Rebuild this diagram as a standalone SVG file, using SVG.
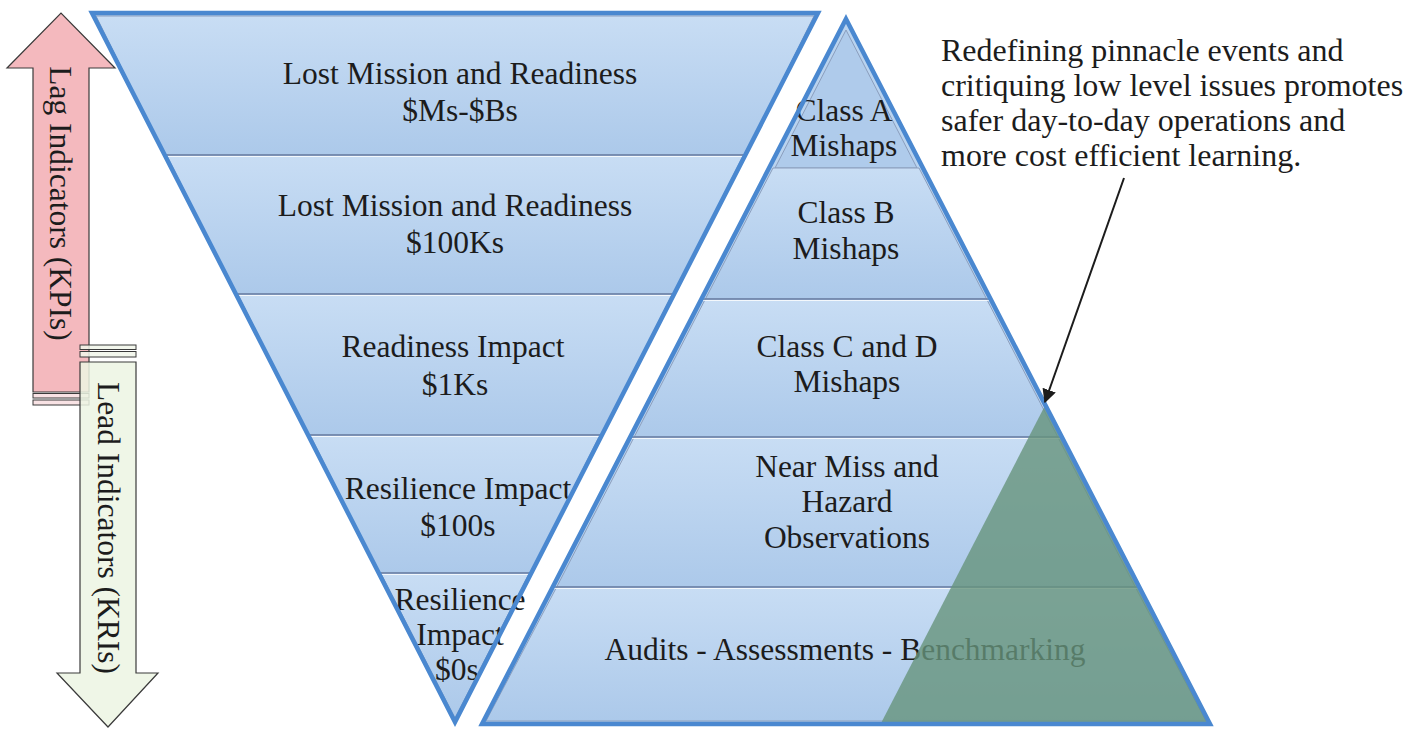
<svg xmlns="http://www.w3.org/2000/svg" width="1417" height="729" viewBox="0 0 1417 729">
  <style>
    .t { font-family: "Liberation Serif", "Times New Roman", serif; font-size: 31.5px; fill: #1c1c1c; text-anchor: middle; }
    .note { font-family: "Liberation Serif", "Times New Roman", serif; font-size: 32px; fill: #1c1c1c; }
    .band { fill: url(#bandFill); stroke: #8b9ebd; stroke-width: 1; }
    .div1 { stroke: #6d83a8; stroke-width: 1.6; }
    .div2 { stroke: #ffffff; stroke-width: 1; opacity: 0.8; }
    .frame { fill: none; stroke: #4a88d0; stroke-width: 4.5; stroke-linejoin: miter; }
    .bar { stroke: #3a3a3a; stroke-width: 1; }
  </style>
  <defs>
    <linearGradient id="bandFill" x1="0" y1="0" x2="0" y2="1">
      <stop offset="0" stop-color="#c8ddf4"/>
      <stop offset="1" stop-color="#acc9ea"/>
    </linearGradient>
    <marker id="head" viewBox="0 0 10 10" refX="9" refY="5" markerWidth="7" markerHeight="7" orient="auto" markerUnits="strokeWidth">
      <path d="M0,0 L10,5 L0,10 Z" fill="#1c1c1c"/>
    </marker>
  </defs>

  <rect width="1417" height="729" fill="#ffffff"/>

  <!-- Lag indicators arrow (up) -->
  <g id="lag-arrow">
    <polygon points="33,392 33,68 7,68 61,13 115,68 89,68 89,392" fill="#f4b9be" stroke="#3a3a3a" stroke-width="1.2"/>
    <rect class="bar" x="33" y="393.5" width="56" height="4.5" fill="#f8e2e4"/>
    <rect class="bar" x="33" y="400" width="56" height="5" fill="#f8e2e4"/>
    <text class="t" transform="translate(50,203.5) rotate(90)">Lag Indicators (KPIs)</text>
  </g>

  <!-- Lead indicators arrow (down) -->
  <g id="lead-arrow">
    <rect class="bar" x="80" y="345" width="56" height="4.5" fill="#f1f6ea" fill-opacity="0.85"/>
    <rect class="bar" x="80" y="351.5" width="56" height="5.5" fill="#f1f6ea" fill-opacity="0.85"/>
    <polygon points="80,362 80,673 57,673 108,727 158,673 136,673 136,362" fill="#ecf4e3" fill-opacity="0.85" stroke="#3a3a3a" stroke-width="1.2"/>
    <text class="t" transform="translate(97.5,528) rotate(90)">Lead Indicators (KRIs)</text>
  </g>

  <!-- Inverted triangle: consequence levels -->
  <g id="cost-triangle">
    <polygon points="92,13 818,13 455,722" fill="#b9d3ef"/>
    <g id="cost-band-1">
      <polygon class="band" points="96,16 814,16 745.3,155 164.7,155"/>
      <text class="t" x="460" y="84">Lost Mission and Readiness</text>
      <text class="t" x="460" y="121">$Ms-$Bs</text>
    </g>
    <g id="cost-band-2">
      <polygon class="band" points="166.5,155 743.5,155 674.1,294 235.9,294"/>
      <text class="t" x="455" y="216">Lost Mission and Readiness</text>
      <text class="t" x="455" y="253">$100Ks</text>
    </g>
    <g id="cost-band-3">
      <polygon class="band" points="237.9,294 672.1,294 601.9,435 308.1,435"/>
      <text class="t" x="453" y="357">Readiness Impact</text>
      <text class="t" x="455" y="395">$1Ks</text>
    </g>
    <g id="cost-band-4">
      <polygon class="band" points="310.1,435 599.9,435 531.3,573 378.7,573"/>
      <text class="t" x="458" y="499">Resilience Impact</text>
      <text class="t" x="458" y="536">$100s</text>
    </g>
    <g id="cost-band-5">
      <polygon class="band" points="380.7,573 529.3,573 455,718"/>
      <text class="t" x="460" y="610">Resilience</text>
      <text class="t" x="460" y="645">Impact</text>
      <text class="t" x="457" y="680">$0s</text>
    </g>
    <g id="cost-dividers">
      <line class="div1" x1="164.7" y1="155" x2="745.3" y2="155"/>
      <line class="div2" x1="165.7" y1="156.5" x2="744.3" y2="156.5"/>
      <line class="div1" x1="235.9" y1="294" x2="674.1" y2="294"/>
      <line class="div2" x1="236.9" y1="295.5" x2="673.1" y2="295.5"/>
      <line class="div1" x1="308.1" y1="435" x2="601.9" y2="435"/>
      <line class="div2" x1="309.1" y1="436.5" x2="600.9" y2="436.5"/>
      <line class="div1" x1="378.7" y1="573" x2="531.3" y2="573"/>
      <line class="div2" x1="379.7" y1="574.5" x2="530.3" y2="574.5"/>
    </g>
    <polygon class="frame" points="92,13 818,13 455,722"/>
  </g>

  <!-- Upright pyramid: mishap classes -->
  <g id="mishap-pyramid">
    <polygon points="846,19 1210,724 482,724" fill="#b9d3ef"/>
    <g id="mishap-band-1">
      <polygon class="band" points="846,30 917,168 775,168" style="fill:#afcbeb"/>
      <text class="t" x="844" y="121">Class A</text>
      <text class="t" x="844" y="156">Mishaps</text>
    </g>
    <g id="mishap-band-2">
      <polygon class="band" points="773,168 919,168 986.6,299 705.4,299"/>
      <text class="t" x="846" y="223">Class B</text>
      <text class="t" x="846" y="259">Mishaps</text>
    </g>
    <g id="mishap-band-3">
      <polygon class="band" points="705.4,299 986.6,299 1057.8,437 634.2,437"/>
      <text class="t" x="847" y="357">Class C and D</text>
      <text class="t" x="847" y="392">Mishaps</text>
    </g>
    <g id="mishap-band-4">
      <polygon class="band" points="634.2,437 1057.8,437 1135.3,587 556.7,587"/>
      <text class="t" x="847" y="477">Near Miss and</text>
      <text class="t" x="847" y="512">Hazard</text>
      <text class="t" x="847" y="548">Observations</text>
    </g>
    <g id="mishap-band-5">
      <polygon class="band" points="556.7,587 1135.3,587 1206,721 486,721"/>
      <text class="t" x="845" y="660">Audits - Assessments - Benchmarking</text>
    </g>
    <g id="mishap-dividers">
      <line class="div1" x1="701.4" y1="299" x2="990.6" y2="299"/>
      <line class="div2" x1="702.4" y1="300.5" x2="989.6" y2="300.5"/>
      <line class="div1" x1="630.2" y1="437" x2="1061.8" y2="437"/>
      <line class="div2" x1="631.2" y1="438.5" x2="1060.8" y2="438.5"/>
      <line class="div1" x1="552.7" y1="587" x2="1139.3" y2="587"/>
      <line class="div2" x1="553.7" y1="588.5" x2="1138.3" y2="588.5"/>
    </g>
    <!-- highlighted low-level region -->
    <polygon id="low-level-region" points="1045.3,405 1210,724 880.6,724" fill="#66947c" fill-opacity="0.8"/>
    <polygon class="frame" points="846,19 1210,724 482,724"/>
  </g>

  <!-- Callout -->
  <g id="callout">
    <text class="note" x="941" y="61">Redefining pinnacle events and</text>
    <text class="note" x="941" y="96">critiquing low level issues promotes</text>
    <text class="note" x="941" y="131">safer day-to-day operations and</text>
    <text class="note" x="941" y="166">more cost efficient learning.</text>
  </g>

  <g id="connectors">
    <line x1="1124" y1="178" x2="1045" y2="402" stroke="#1c1c1c" stroke-width="2" marker-end="url(#head)"/>
  </g>
</svg>
